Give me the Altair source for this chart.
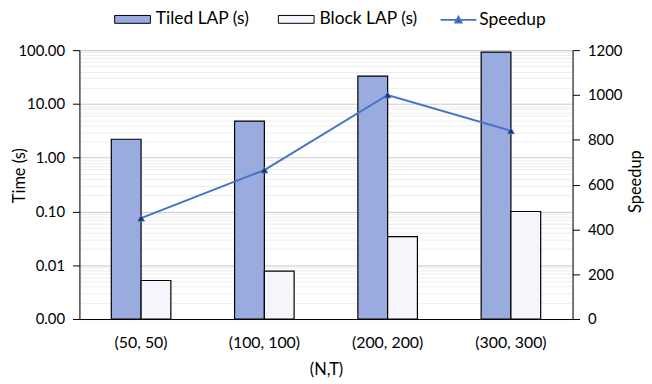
import altair as alt
import pandas as pd

categories = ["(50, 50)", "(100, 100)", "(200, 200)", "(300, 300)"]
tiled_lap = [2.2, 4.8, 33.0, 92.0]
block_lap = [0.0052, 0.0078, 0.034, 0.10]
speedup = [450, 665, 1000, 840]

bar_series = ["Tiled LAP (s)", "Block LAP (s)"]
bar_colors = ["#9aabe0", "#f4f6fc"]
line_series = ["Speedup"]
line_color = "#4472C4"

left_ticks = [m * d for d in [0.001, 0.01, 0.1, 1, 10] for m in range(1, 10)] + [100]
right_ticks = [0, 200, 400, 600, 800, 1000, 1200]

FONT = "Lato"
W, H = 497, 271

bars_df = pd.DataFrame({
    "cat": categories * 2,
    "series": [bar_series[0]] * 4 + [bar_series[1]] * 4,
    "value": tiled_lap + block_lap,
    "base": [0.001] * 8,
})
line_df = pd.DataFrame({
    "cat": categories,
    "speedup": speedup,
    "series": line_series * 4,
})

major = "abs(log(datum.value)/LN10 - round(log(datum.value)/LN10)) < 0.001"

x_enc = alt.X(
    "cat:N", sort=categories,
    scale=alt.Scale(paddingInner=0.517, paddingOuter=0.2585),
    axis=alt.Axis(title="(N,T)", labelAngle=0, ticks=False, domainColor="black",
                  labelPadding=16, grid=False, labelFontSize=16,
                  titleX=W / 2, titleY=51, titleBaseline="middle", titleAlign="center"),
)

bars = alt.Chart(bars_df).mark_bar(stroke="black", strokeWidth=1.2).encode(
    x=x_enc,
    xOffset=alt.XOffset("series:N", sort=bar_series,
                        scale=alt.Scale(paddingInner=0, paddingOuter=0)),
    y=alt.Y("value:Q",
            scale=alt.Scale(type="log", domain=[0.001, 100]),
            axis=alt.Axis(
                title="Time (s)", values=left_ticks, labelOverlap=False,
                labelExpr=f"({major}) ? format(datum.value, '.2f') : ''",
                gridColor={"condition": {"test": major, "value": "#c9c9c9"}, "value": "#ededed"},
                tickOpacity={"condition": {"test": major, "value": 1}, "value": 0},
                domainColor="black", tickColor="black", tickSize=7,
                labelPadding=8,
                titleAngle=270, titleX=-60, titleY=126,
                titleBaseline="middle", titleAlign="center",
            )),
    y2="base:Q",
    fill=alt.Fill(
        "series:N",
        scale=alt.Scale(domain=bar_series, range=bar_colors),
        legend=alt.Legend(
            orient="none", legendX=35, legendY=-49.5, direction="horizontal", title=None,
            symbolType="M-1,-0.22H1V0.22H-1Z", symbolSize=1296, labelOffset=5,
            columnPadding=26, symbolStrokeColor="black", symbolStrokeWidth=1,
            symbolOpacity=1, labelFontSize=17.5,
        ),
    ),
)

line = alt.Chart(line_df).mark_line(strokeWidth=2).encode(
    x=alt.X("cat:N", sort=categories),
    y=alt.Y("speedup:Q", scale=alt.Scale(domain=[0, 1200]),
            axis=alt.Axis(title="Speedup", orient="right", values=right_ticks, grid=False,
                          format="d",
                          domainColor="black", tickColor="black", tickSize=7,
                          labelPadding=8,
                          titleAngle=270, titleX=63, titleY=132,
                          titleBaseline="middle", titleAlign="center")),
    stroke=alt.Stroke(
        "series:N",
        scale=alt.Scale(domain=line_series, range=[line_color]),
        legend=alt.Legend(
            orient="none", legendX=363, legendY=-49.5, direction="horizontal", title=None,
            symbolType="M-1,0H1M-0.17,0.15L0,-0.17L0.17,0.15Z", symbolSize=1296, labelOffset=2,
            symbolFillColor="#1d2b5c", symbolStrokeWidth=2, symbolOpacity=1,
            labelFontSize=17.5,
        ),
    ),
)

points = alt.Chart(line_df).mark_point(
    shape="triangle-up", filled=True, size=45, fill="#1d2b5c",
    stroke=line_color, strokeWidth=1, opacity=1,
).encode(
    x=alt.X("cat:N", sort=categories),
    y=alt.Y("speedup:Q", scale=alt.Scale(domain=[0, 1200])),
)

chart = alt.layer(bars, alt.layer(line, points)).resolve_scale(y="independent").properties(
    width=W, height=H,
    autosize=alt.AutoSizeParams(type="none"),
    padding={"left": 72, "right": 72, "top": 41, "bottom": 62},
).configure_view(strokeWidth=0).configure(
    font=FONT,
).configure_axis(
    labelFont=FONT, titleFont=FONT, labelFontSize=15, titleFontSize=16.5,
    titleFontWeight="normal", labelColor="black", titleColor="black",
).configure_legend(
    labelFont=FONT, labelColor="black", padding=0,
)

chart.save("out.html", embed_options={"renderer": "svg", "actions": False})
